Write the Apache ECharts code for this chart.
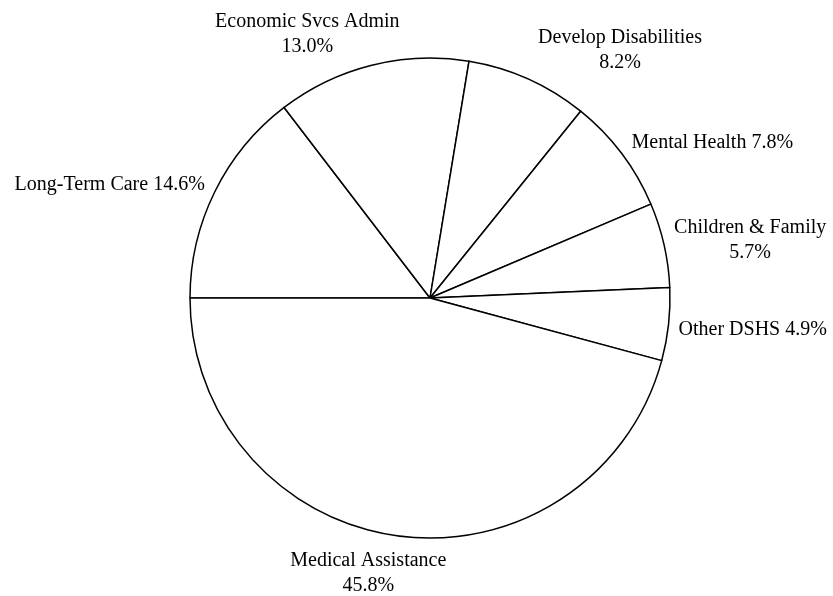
<!DOCTYPE html>
<html>
<head>
<meta charset="utf-8">
<script src="https://cdn.jsdelivr.net/npm/echarts@6/dist/echarts.min.js"></script>
<style>
html,body{margin:0;padding:0;background:#fff;}
#chart{width:833px;height:596px;}
</style>
</head>
<body>
<div id="chart"></div>
<script>
// Data (clockwise from the left horizontal)
var categories = ['Long-Term Care', 'Economic Svcs Admin', 'Develop Disabilities', 'Mental Health', 'Children & Family', 'Other DSHS', 'Medical Assistance'];
var shares = [14.6, 13.0, 8.2, 7.8, 5.7, 4.9, 45.8];
var twoLineLabel = [false, true, true, false, true, false, true];

// Layout
var CX = 430, CY = 298, R = 240;
var START = 180;

var total = shares.reduce(function(a, b){ return a + b; }, 0);
var midAngles = [];
(function(){
  var cum = 0;
  for (var i = 0; i < shares.length; i++) {
    var s = START - cum / total * 360;
    midAngles.push(s - shares[i] / total * 180);
    cum += shares[i];
  }
})();

function clamp(v){ return Math.max(-1, Math.min(1, v)); }

var chart = echarts.init(document.getElementById('chart'));
chart.setOption({
  animation: false,
  backgroundColor: '#fff',
  series: [{
    type: 'pie',
    center: [CX, CY],
    radius: [0, R],
    startAngle: START,
    clockwise: true,
    avoidLabelOverlap: false,
    silent: true,
    itemStyle: { color: '#fff', borderColor: '#000', borderWidth: 1.5 },
    emphasis: { disabled: true },
    labelLine: { show: false },
    label: {
      show: true,
      position: 'outside',
      color: '#000',
      fontFamily: '"Liberation Serif", "Times New Roman", serif',
      fontSize: 20,
      lineHeight: 25,
      align: 'center',
      formatter: function(p){
        var sep = twoLineLabel[p.dataIndex] ? '\n' : ' ';
        return categories[p.dataIndex] + sep + shares[p.dataIndex].toFixed(1) + '%';
      }
    },
    labelLayout: function(p){
      var a = midAngles[p.dataIndex] * Math.PI / 180;
      var c = Math.cos(a), s = Math.sin(a);
      var w = p.labelRect.width, h = p.labelRect.height;
      var g = 10;
      var fx = clamp(2.6 * c), fy = clamp(1.0 * s);
      var px = CX + R * c, py = CY - R * s;
      return {
        x: px + fx * (w / 2 + g),
        y: py - fy * (h / 2 + g) + 3,
        align: 'center',
        verticalAlign: 'middle'
      };
    },
    data: categories.map(function(n, i){ return { name: n, value: shares[i] }; })
  }]
});
</script>
</body>
</html>
